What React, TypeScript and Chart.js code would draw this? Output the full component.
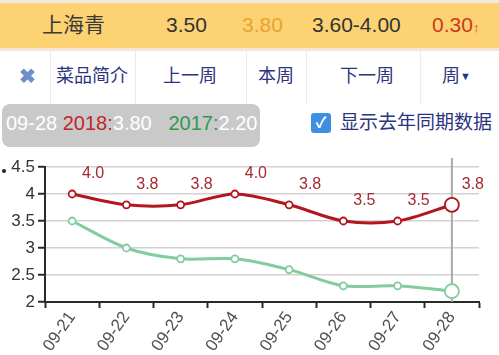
import React, { useEffect, useRef } from "react";
import { Chart, registerables } from "chart.js";
Chart.register(...registerables);

const categories = ["09-21", "09-22", "09-23", "09-24", "09-25", "09-26", "09-27", "09-28"];
const series2018 = [4.0, 3.8, 3.8, 4.0, 3.8, 3.5, 3.5, 3.8];
const series2017 = [3.5, 3.0, 2.8, 2.8, 2.6, 2.3, 2.3, 2.2];
const yTicks = [2, 2.5, 3, 3.5, 4, 4.5];
const labels2018 = ["4.0", "3.8", "3.8", "4.0", "3.8", "3.5", "3.5", "3.8"];

const RED = "#b3161f";
const GREEN = "#82cc9e";
const FONT = "'Liberation Sans', 'Noto Sans CJK SC', sans-serif";

const labelPlugin = {
  id: "labels2018",
  afterDatasetsDraw(chart: any) {
    const meta = chart.getDatasetMeta(0);
    const ctx = chart.ctx;
    ctx.save();
    ctx.fillStyle = "#a62a30";
    ctx.font = `16px ${FONT}`;
    ctx.textAlign = "center";
    ctx.textBaseline = "middle";
    meta.data.forEach((pt: any, i: number) => {
      ctx.fillText(labels2018[i], pt.x + 21, pt.y - 20);
    });
    ctx.restore();
  },
};

const crosshairPlugin = {
  id: "crosshair",
  beforeDatasetsDraw(chart: any) {
    const meta = chart.getDatasetMeta(0);
    const last = meta.data[meta.data.length - 1];
    const ctx = chart.ctx;
    ctx.save();
    ctx.strokeStyle = "#a9a9a9";
    ctx.lineWidth = 2;
    ctx.beginPath();
    ctx.moveTo(last.x, 8);
    ctx.lineTo(last.x, chart.chartArea.bottom);
    ctx.stroke();
    ctx.restore();
  },
};

function ChartView() {
  const ref = useRef<HTMLCanvasElement>(null);
  useEffect(() => {
    if (!ref.current) return;
    const n = categories.length;
    const radii = categories.map((_, i) => (i === n - 1 ? 7 : 3.5));
    const chart = new Chart(ref.current, {
      type: "line",
      data: {
        labels: categories,
        datasets: [
          {
            data: series2018,
            borderColor: RED,
            borderWidth: 3,
            tension: 0.3,
            pointRadius: radii,
            pointBackgroundColor: "#ffffff",
            pointBorderColor: RED,
            pointBorderWidth: 1.8,
          },
          {
            data: series2017,
            borderColor: GREEN,
            borderWidth: 3,
            tension: 0.3,
            pointRadius: radii,
            pointBackgroundColor: "#ffffff",
            pointBorderColor: GREEN,
            pointBorderWidth: 1.8,
          },
        ],
      },
      options: {
        responsive: false,
        animation: false,
        layout: { padding: { top: 17, right: 20, left: 0, bottom: 0 } },
        plugins: { legend: { display: false }, tooltip: { enabled: false } },
        scales: {
          x: {
            offset: true,
            grid: {
              offset: true,
              drawOnChartArea: false,
              drawTicks: true,
              tickLength: 6,
              tickColor: "#2a2a2a",
              tickWidth: 2,
            },
            border: { display: true, color: "#2a2a2a", width: 2 },
            ticks: {
              minRotation: 55,
              maxRotation: 55,
              color: "#505050",
              font: { family: FONT, size: 17 },
              padding: 0,
            },
            afterFit(scale: any) {
              scale.height = 53;
            },
          },
          y: {
            min: 2,
            max: 4.5,
            afterBuildTicks(scale: any) {
              scale.ticks = yTicks.map((v) => ({ value: v }));
            },
            grid: {
              color: "#d2d2d2",
              lineWidth: 1.5,
              tickLength: 7,
              tickColor: "#2a2a2a",
              tickWidth: 2,
            },
            border: { display: true, color: "#2a2a2a", width: 2 },
            ticks: {
              color: "#333",
              font: { family: FONT, size: 17 },
              padding: 3,
              callback: (v: any) => String(v),
            },
            afterFit(scale: any) {
              scale.width = 45;
            },
          },
        },
      },
      plugins: [crosshairPlugin, labelPlugin],
    });
    return () => chart.destroy();
  }, []);
  return <canvas ref={ref} width={499} height={205} style={{ display: "block" }} />;
}

export default function App() {
  const abs = (s: React.CSSProperties): React.CSSProperties => ({ position: "absolute", ...s });
  const navy = "#2c3480";
  return (
    <div
      style={{
        position: "fixed",
        left: 0,
        top: 0,
        width: 499,
        height: 355,
        overflow: "hidden",
        background: "#fff",
        fontFamily: FONT,
      }}
    >
      <div style={abs({ left: 0, top: 0, width: 499, height: 3, background: "#eeeae2" })} />
      <div style={abs({ left: 0, top: 3, width: 499, height: 45, background: "#fdd272" })} />
      <div style={abs({ left: 0, top: 48, width: 499, height: 3, background: "#f6e4d6" })} />
      <div style={abs({ left: 42, top: 11, fontSize: 21, color: "#3a3a3a", lineHeight: "28px" })}>上海青</div>
      <div style={abs({ left: 166, top: 11, fontSize: 21, color: "#333", lineHeight: "28px" })}>3.50</div>
      <div style={abs({ left: 242, top: 11, fontSize: 21, color: "#e9a136", lineHeight: "28px" })}>3.80</div>
      <div style={abs({ left: 312, top: 11, fontSize: 21, color: "#333", lineHeight: "28px" })}>3.60-4.00</div>
      <div style={abs({ left: 432, top: 11, fontSize: 21, color: "#c83a22", lineHeight: "28px" })}>
        0.30<span style={{ fontSize: 13 }}>↑</span>
      </div>

      {[50, 135, 246, 306, 420].map((x) => (
        <div key={x} style={abs({ left: x, top: 51, width: 1, height: 53, background: "#ececec" })} />
      ))}
      <div style={abs({ left: 19, top: 63, fontSize: 20, color: "#6e8fcc", lineHeight: "26px", fontWeight: 700 })}>✖</div>
      <div style={abs({ left: 56, top: 63, fontSize: 18, color: navy, lineHeight: "26px" })}>菜品简介</div>
      <div style={abs({ left: 163, top: 63, fontSize: 18, color: navy, lineHeight: "26px" })}>上一周</div>
      <div style={abs({ left: 258, top: 63, fontSize: 18, color: navy, lineHeight: "26px" })}>本周</div>
      <div style={abs({ left: 340, top: 63, fontSize: 18, color: navy, lineHeight: "26px" })}>下一周</div>
      <div style={abs({ left: 442, top: 63, fontSize: 18, color: navy, lineHeight: "26px" })}>
        周<span style={{ fontSize: 11, position: "relative", top: -2 }}>▼</span>
      </div>

      <div style={abs({ left: 2, top: 104, width: 258, height: 43, background: "#c9c9c9", borderRadius: 8 })} />
      <div style={abs({ left: 6, top: 110, fontSize: 20, lineHeight: "26px", color: "#fff", whiteSpace: "nowrap" })}>
        09-28 <span style={{ color: "#c0262c" }}>2018:</span>3.80&nbsp;&nbsp;&nbsp;<span style={{ color: "#2f9a4c" }}>2017:</span>2.20
      </div>
      <div
        style={abs({
          left: 311,
          top: 113,
          width: 20,
          height: 20,
          background: "#3d8fe2",
          borderRadius: 3,
          color: "#fff",
          fontSize: 15,
          lineHeight: "20px",
          textAlign: "center",
          fontWeight: 700,
        })}
      >
        ✓
      </div>
      <div style={abs({ left: 340, top: 110, fontSize: 19, color: navy, lineHeight: "26px", whiteSpace: "nowrap" })}>显示去年同期数据</div>

      <div style={abs({ left: 2, top: 169, width: 4, height: 4, borderRadius: 2, background: "#222" })} />
      <div style={abs({ left: 0, top: 150, width: 499, height: 205 })}>
        <ChartView />
      </div>
    </div>
  );
}
